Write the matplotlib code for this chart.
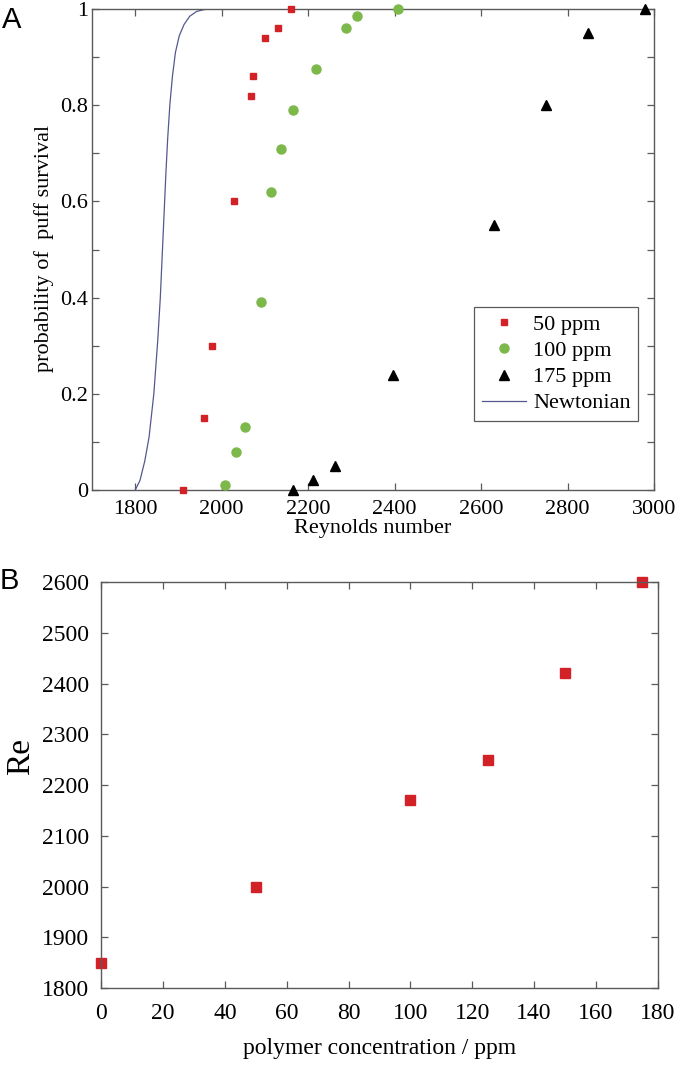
import matplotlib
matplotlib.use("Agg")
import matplotlib.pyplot as plt
from matplotlib.ticker import MultipleLocator, FuncFormatter

# panel A data
re_50 = [1911, 1960, 1977, 2029, 2068, 2072, 2100, 2130, 2161]
p_50 = [0.0, 0.15, 0.30, 0.60, 0.82, 0.86, 0.94, 0.96, 1.0]

re_100 = [2008, 2034, 2053, 2091, 2115, 2138, 2164, 2218, 2287, 2313, 2408]
p_100 = [0.01, 0.08, 0.13, 0.39, 0.62, 0.71, 0.79, 0.875, 0.96, 0.985, 1.0]

re_175 = [2165, 2212, 2262, 2396, 2631, 2750, 2848, 2980]
p_175 = [0.0, 0.02, 0.05, 0.24, 0.55, 0.80, 0.95, 1.0]

re_newt = [1800, 1811, 1822, 1832, 1843, 1852, 1858, 1863, 1867, 1871, 1875,
           1880, 1886, 1893, 1902, 1913, 1926, 1942, 1960, 1980, 2000]
p_newt = [0.0, 0.02, 0.06, 0.11, 0.20, 0.31, 0.40, 0.50, 0.58, 0.66, 0.73,
          0.80, 0.86, 0.91, 0.945, 0.968, 0.985, 0.995, 0.999, 1.0, 1.0]

# panel B data
conc = [0, 50, 100, 125, 150, 175]
re_crit = [1850, 2000, 2170, 2250, 2420, 2600]

red = "#d32128"
green = "#7cb84a"
navy = "#55588f"
spine = "#5a5a5a"

plt.rcParams["font.family"] = ["Liberation Serif", "DejaVu Serif"]

fig = plt.figure(figsize=(6.8, 10.65), dpi=100)

def style(ax, size):
    for s in ax.spines.values():
        s.set_color(spine)
        s.set_linewidth(1.0)
    ax.tick_params(which="both", direction="in", top=True, right=True,
                   length=5, width=0.9, color=spine, labelsize=size)

# ---- A ----
ax1 = fig.add_axes([0.1353, 0.5399, 0.8265, 0.4516])
hn, = ax1.plot(re_newt, p_newt, "-", color=navy, lw=0.9, zorder=2)
h50, = ax1.plot(re_50, p_50, "s", color=red, ms=5, mec=red, ls="none", clip_on=False, zorder=3)
h100, = ax1.plot(re_100, p_100, "o", color=green, ms=6.5, mec=green, ls="none", clip_on=False, zorder=3)
h175, = ax1.plot(re_175, p_175, "^", color="black", ms=7, ls="none", clip_on=False, zorder=3)
ax1.set_xlim(1700, 3000)
ax1.set_ylim(0, 1)
ax1.set_xticks([1800, 2000, 2200, 2400, 2600, 2800, 3000])
ax1.yaxis.set_major_locator(MultipleLocator(0.1))
ax1.yaxis.set_major_formatter(FuncFormatter(
    lambda v, p: ("%g" % round(v, 1)) if round(v * 10) % 2 == 0 else ""))
style(ax1, 16)
ax1.tick_params(axis="x", pad=7)
ax1.tick_params(axis="y", pad=3)
ax1.set_xlabel("Reynolds number", fontsize=16, labelpad=0)
ax1.set_ylabel("probability of  puff survival", fontsize=16)
ax1.yaxis.set_label_coords(-0.068, 0.503)
leg = ax1.legend([h50, h100, h175, hn], ["50 ppm", "100 ppm", "175 ppm", "Newtonian"],
                 loc="lower right", bbox_to_anchor=(0.972, 0.143), fontsize=16,
                 fancybox=False, edgecolor=spine, framealpha=1,
                 handlelength=2.0, handletextpad=0.3, borderpad=0.35,
                 labelspacing=0.25, borderaxespad=0)
leg.get_frame().set_linewidth(0.9)
fig.text(0.003, 0.994, "A", fontsize=21, family="Liberation Sans", va="top", ha="left")

# ---- B ----
ax2 = fig.add_axes([0.149, 0.0723, 0.818, 0.3812])
ax2.plot(conc, re_crit, "s", color=red, ms=7, mec=red, ls="none", clip_on=False)
ax2.set_xlim(0, 180)
ax2.set_ylim(1800, 2600)
ax2.xaxis.set_major_locator(MultipleLocator(20))
ax2.yaxis.set_major_locator(MultipleLocator(100))
style(ax2, 17)
ax2.tick_params(axis="x", pad=11)
ax2.tick_params(axis="y", pad=9)
ax2.set_xlabel("polymer concentration / ppm", fontsize=17, labelpad=10)
ax2.set_ylabel("Re", fontsize=24)
ax2.yaxis.set_label_coords(-0.118, 0.57)
fig.text(0.0, 0.4545, "B", fontsize=21, family="Liberation Sans", va="center", ha="left")

fig.savefig("out.png", dpi=100)
